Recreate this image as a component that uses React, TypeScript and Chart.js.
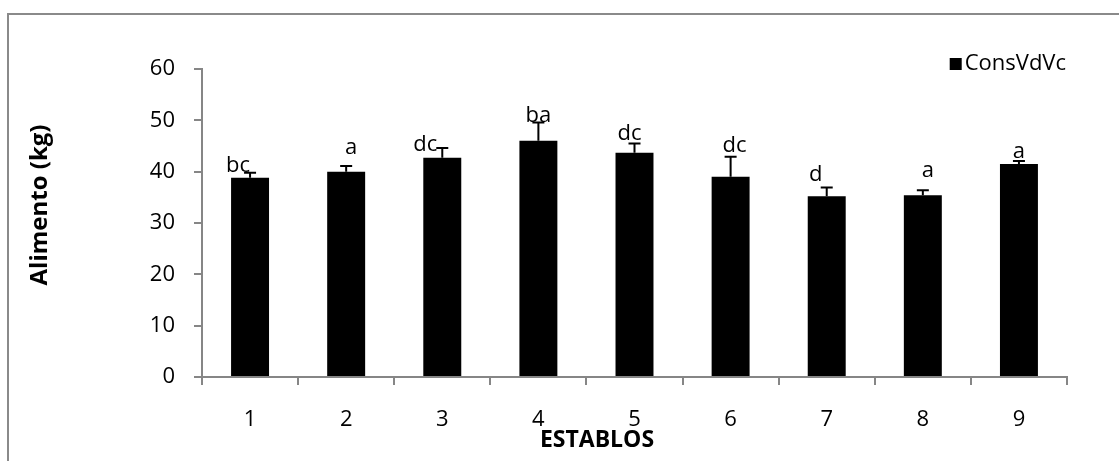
import React, { useEffect, useRef } from "react";
import { Chart, registerables } from "chart.js";

Chart.register(...registerables);

// ---- data ----
const categories = ["1", "2", "3", "4", "5", "6", "7", "8", "9"];
const consumo = [38.8, 40.0, 42.7, 46.0, 43.7, 39.0, 35.2, 35.4, 41.5];
const errores = [1.0, 1.1, 1.9, 3.6, 1.8, 3.9, 1.7, 1.0, 0.6];
const letras = ["bc", "a", "dc", "ba", "dc", "dc", "d", "a", "a"];
const seriesName = "ConsVdVc";
const yTitle = "Alimento (kg)";
const xTitle = "ESTABLOS";
const yMin = 0;
const yMax = 60;
const yStep = 10;

// ---- style ----
const FONT = "'Open Sans', 'Noto Sans', sans-serif";
const AXIS_GRAY = "#868686";
// per-label nudges [dx, dy] in px relative to top of error bar
const letterNudges: [number, number][] = [
  [-12, 1], [5, 12], [-17, -3], [0, 0], [-5, 3], [4, 5], [-11, 7], [5, 13], [0, 3],
];

const W = 1119;
const H = 461;

export default function App() {
  const ref = useRef<HTMLCanvasElement | null>(null);

  useEffect(() => {
    document.body.style.margin = "0";
    const canvas = ref.current;
    if (!canvas) return;

    const decor = {
      id: "decor",
      beforeDraw(chart: any) {
        const ctx = chart.ctx;
        ctx.save();
        ctx.fillStyle = "#ffffff";
        ctx.fillRect(0, 0, W, H);
        ctx.strokeStyle = "#8a8a8a";
        ctx.lineWidth = 2;
        ctx.strokeRect(8, 14, W + 20, H + 20);
        ctx.restore();
      },
      afterDatasetsDraw(chart: any) {
        const ctx = chart.ctx;
        const meta = chart.getDatasetMeta(0);
        const ys = chart.scales.y;
        ctx.save();
        ctx.strokeStyle = "#000";
        ctx.lineWidth = 2;
        meta.data.forEach((bar: any, i: number) => {
          const x = bar.x;
          const yTop = ys.getPixelForValue(consumo[i]);
          const yErr = ys.getPixelForValue(consumo[i] + errores[i]);
          ctx.beginPath();
          ctx.moveTo(x, yTop);
          ctx.lineTo(x, yErr);
          ctx.moveTo(x - 6, yErr);
          ctx.lineTo(x + 6, yErr);
          ctx.stroke();
          const [dx, dy] = letterNudges[i];
          ctx.fillStyle = "#000";
          ctx.font = `22px ${FONT}`;
          ctx.textAlign = "center";
          ctx.textBaseline = "alphabetic";
          ctx.fillText(letras[i], x + dx, yErr - dy);
        });
        ctx.restore();
      },
      afterDraw(chart: any) {
        const ctx = chart.ctx;
        const area = chart.chartArea;
        ctx.save();
        ctx.fillStyle = "#000";
        // legend
        ctx.font = `22px ${FONT}`;
        ctx.textAlign = "right";
        ctx.textBaseline = "middle";
        const legendRight = 1066;
        const legendY = 64;
        ctx.fillText(seriesName, legendRight, legendY);
        const tw = ctx.measureText(seriesName).width;
        ctx.fillRect(legendRight - tw - 15, legendY - 6, 12, 12);
        // y title
        ctx.font = `bold 24px ${FONT}`;
        ctx.textAlign = "center";
        ctx.translate(40, 205);
        ctx.rotate(-Math.PI / 2);
        ctx.fillText(yTitle, 0, 0);
        ctx.setTransform(1, 0, 0, 1, 0, 0);
        // x title
        ctx.font = `bold 23px ${FONT}`;
        ctx.textAlign = "center";
        ctx.textBaseline = "middle";
        ctx.fillText(xTitle, 597, 440);
        ctx.restore();
      },
    };

    const chart = new Chart(canvas, {
      type: "bar",
      data: {
        labels: categories,
        datasets: [
          {
            label: seriesName,
            data: consumo,
            backgroundColor: "#000000",
            borderWidth: 0,
            barPercentage: 1,
            categoryPercentage: 0.395,
          },
        ],
      },
      options: {
        responsive: false,
        animation: false,
        devicePixelRatio: 1,
        layout: { padding: { left: 0, top: 69, right: 52, bottom: 0 } },
        plugins: {
          legend: { display: false },
          tooltip: { enabled: false },
          title: { display: false },
        },
        scales: {
          x: {
            offset: true,
            grid: {
              offset: true,
              drawOnChartArea: false,
              drawTicks: true,
              tickLength: 8,
              color: AXIS_GRAY,
              lineWidth: 2,
            },
            border: { display: true, color: AXIS_GRAY, width: 2 },
            ticks: {
              color: "#000",
              font: { family: FONT, size: 22 },
              padding: 22,
              maxRotation: 0,
            },
            afterFit(scale: any) {
              scale.height = 84;
            },
          },
          y: {
            min: yMin,
            max: yMax,
            grid: {
              drawOnChartArea: false,
              drawTicks: true,
              tickLength: 8,
              color: AXIS_GRAY,
              lineWidth: 2,
            },
            border: { display: true, color: AXIS_GRAY, width: 2 },
            ticks: {
              stepSize: yStep,
              color: "#000",
              font: { family: FONT, size: 22 },
              padding: 19,
            },
            afterFit(scale: any) {
              scale.width = 202;
            },
          },
        },
      },
      plugins: [decor],
    } as any);

    return () => chart.destroy();
  }, []);

  return (
    <canvas
      ref={ref}
      width={W}
      height={H}
      style={{ display: "block", width: W, height: H }}
    />
  );
}
